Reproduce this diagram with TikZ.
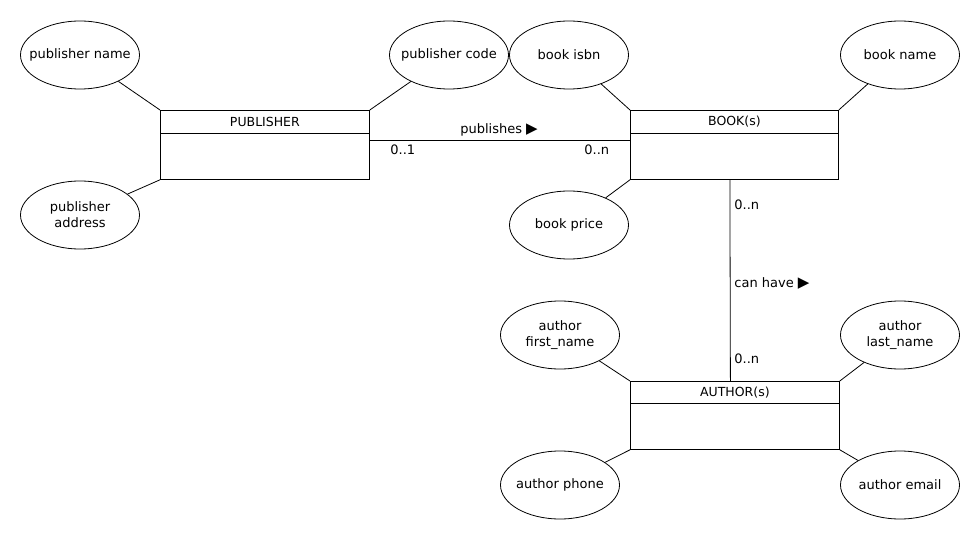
\documentclass[tikz,border=0pt]{standalone}
\usepackage{fontspec}
\setmainfont{DejaVu Sans}
\usetikzlibrary{shapes.geometric}
\begin{document}
\begin{tikzpicture}[x=1pt,y=-1pt,line width=0.8pt,
  attr/.style={draw,ellipse,minimum width=119pt,minimum height=68pt,inner sep=0pt,
    label={[align=center,inner sep=0pt,font=\fontsize{13}{16}\selectfont]center:#1}},
  entity/.style={draw,rectangle,minimum width=209pt,minimum height=69pt,anchor=north west,inner sep=0pt},
  etitle/.style={minimum height=23pt,inner sep=0pt,anchor=north,font=\fontsize{12.5}{14}\selectfont},
  lbl/.style={inner sep=0pt,font=\fontsize{13}{15}\selectfont}]
\useasboundingbox (0,0) rectangle (980,540);
% entities
\node[entity] (pub) at (160,110) {};
\node[etitle] (pubt) at (pub.north) {PUBLISHER};
\draw (pub.west |- pubt.south) -- (pub.east |- pubt.south);
\node[entity,minimum width=208pt] (book) at (630,110) {};
\node[etitle] (bookt) at (book.north) {BOOK(s)};
\draw (book.west |- bookt.south) -- (book.east |- bookt.south);
\node[entity,minimum height=68pt] (auth) at (630,381) {};
\node[etitle,minimum height=22pt] (autht) at (auth.north) {AUTHOR(s)};
\draw (auth.west |- autht.south) -- (auth.east |- autht.south);
% attributes
\node[attr={publisher name}] (pname) at (80,55) {};
\node[attr={publisher\\address}] (paddr) at (80,215) {};
\node[attr={publisher code}] (pcode) at (449,55) {};
\node[attr={book isbn}] (bisbn) at (569,55) {};
\node[attr={book name}] (bname) at (900,55) {};
\node[attr={book price}] (bprice) at (569,225) {};
\node[attr={author\\first\_name}] (afirst) at (560,335) {};
\node[attr={author\\last\_name}] (alast) at (900,335) {};
\node[attr={author phone}] (aphone) at (560,485) {};
\node[attr={author email}] (aemail) at (900,485) {};
% attribute connectors
\draw (pname) -- (pub.north west);
\draw (paddr) -- (pub.south west);
\draw (pcode) -- (pub.north east);
\draw (bisbn) -- (book.north west);
\draw (bname) -- (book.north east);
\draw (bprice) -- (book.south west);
\draw (afirst) -- (auth.north west);
\draw (alast) -- (auth.north east);
\draw (aphone) -- (auth.south west);
\draw (aemail) -- (auth.south east);
% relationships
\draw ([yshift=4.5pt]pub.east) -- ([yshift=4.5pt]book.west);
\draw ([xshift=-4.5pt]book.south) -- ([xshift=-4.5pt]auth.north);
\node[lbl] (publ) at (499,130) {publishes {\fontsize{15}{15}\selectfont ▶}};
\node[lbl,anchor=west] (m1) at (390,150) {0..1};
\node[lbl,anchor=west] (m2) at (584,150) {0..n};
\node[lbl,anchor=west] (m3) at (734,205) {0..n};
\node[lbl,anchor=west] (canh) at (734,283) {can have {\fontsize{15}{15}\selectfont ▶}};
\node[lbl,anchor=west] (m4) at (734,359) {0..n};
\end{tikzpicture}
\end{document}
